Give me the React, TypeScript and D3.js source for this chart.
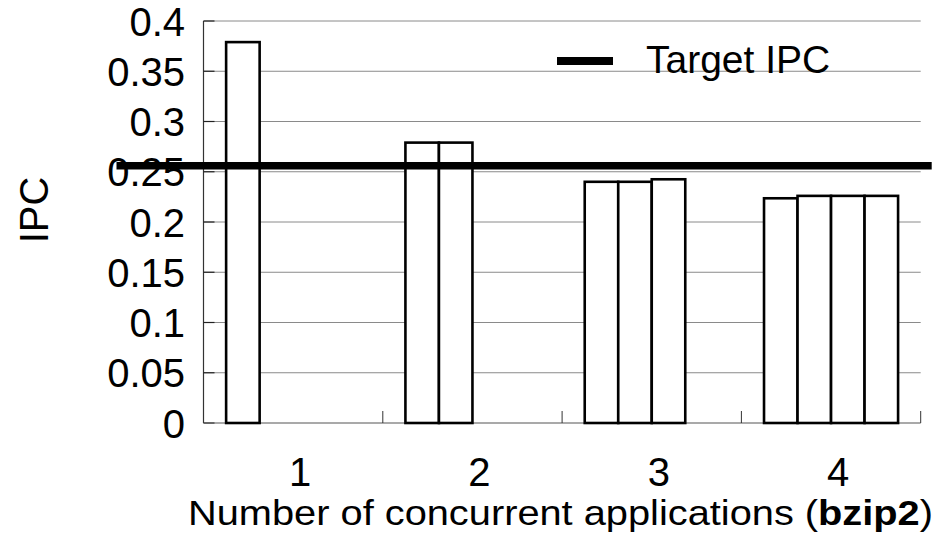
import React from "react";
import * as d3 from "d3";

const categories = ["1", "2", "3", "4"];
const seriesKeys = ["app1", "app2", "app3", "app4"];
const app1 = [0.379, 0.279, 0.240, 0.2236];
const app2 = [null, 0.279, 0.240, 0.226];
const app3 = [null, null, 0.2425, 0.226];
const app4 = [null, null, null, 0.226];
const series = [app1, app2, app3, app4];
const yTicks = [0, 0.05, 0.1, 0.15, 0.2, 0.25, 0.3, 0.35, 0.4];
const yTickLabels = ["0", "0.05", "0.1", "0.15", "0.2", "0.25", "0.3", "0.35", "0.4"];
const targetIPC = 0.256;
const legendLabel = "Target IPC";
const yLabel = "IPC";
const xLabelMain = "Number of concurrent applications (";
const xLabelBold = "bzip2";
const xLabelEnd = ")";

const W = 935;
const H = 533;
const plot = { left: 203.5, right: 920.7, top: 21, bottom: 423 };
const FONT = "Liberation Sans, Arial, Helvetica, sans-serif";

export default function App() {
  const x0 = d3.scaleBand<string>().domain(categories).range([plot.left, plot.right]).paddingInner(0).paddingOuter(0);
  const x1 = d3
    .scaleBand<string>()
    .domain(seriesKeys)
    .range([0, x0.bandwidth()])
    .paddingInner(0)
    .paddingOuter(0.675);
  const y = d3.scaleLinear().domain([0, 0.4]).range([plot.bottom, plot.top]);

  const bars: { x: number; y: number; w: number; h: number; key: string }[] = [];
  categories.forEach((c, ci) => {
    series.forEach((s, si) => {
      const v = s[ci];
      if (v == null) return;
      bars.push({
        x: (x0(c) as number) + (x1(seriesKeys[si]) as number),
        y: y(v),
        w: x1.bandwidth(),
        h: y(0) - y(v),
        key: `${ci}-${si}`,
      });
    });
  });

  const catBoundaries = categories.map((c) => (x0(c) as number) + x0.bandwidth());

  return (
    <svg
      width={W}
      height={H}
      style={{ position: "absolute", left: 0, top: 0, background: "#fff" }}
      fontFamily={FONT}
    >
      <rect x={0} y={0} width={W} height={H} fill="#fff" />
      {/* gridlines */}
      {yTicks.slice(1).map((t) => (
        <line key={t} x1={plot.left} x2={plot.right} y1={y(t)} y2={y(t)} stroke="#8a8a8a" strokeWidth={1} />
      ))}
      {/* y axis */}
      <line x1={plot.left} x2={plot.left} y1={y(0.4)} y2={plot.bottom} stroke="#333" strokeWidth={1.2} />
      {yTicks.map((t) => (
        <line key={"t" + t} x1={plot.left} x2={plot.left + 11} y1={y(t)} y2={y(t)} stroke="#222" strokeWidth={1.2} />
      ))}
      {yTicks.map((t, i) => (
        <text key={"l" + t} x={185} y={y(t) + 14.5} fontSize={40} textAnchor="end" fill="#000">
          {yTickLabels[i]}
        </text>
      ))}
      {/* x axis */}
      <line x1={plot.left} x2={plot.right} y1={plot.bottom} y2={plot.bottom} stroke="#555" strokeWidth={1.2} />
      {catBoundaries.map((b, i) => (
        <line key={"xb" + i} x1={b} x2={b} y1={plot.bottom} y2={plot.bottom - 12} stroke="#333" strokeWidth={1} />
      ))}
      {categories.map((c) => (
        <text
          key={"xc" + c}
          x={(x0(c) as number) + x0.bandwidth() / 2 + 7}
          y={485.7}
          fontSize={40}
          textAnchor="middle"
          fill="#000"
        >
          {c}
        </text>
      ))}
      {/* bars */}
      {bars.map((b) => (
        <rect key={b.key} x={b.x} y={b.y} width={b.w} height={b.h} fill="#fff" stroke="#000" strokeWidth={2.6} />
      ))}
      {/* target line */}
      <line x1={plot.left - 87} x2={plot.right + 11} y1={y(targetIPC)} y2={y(targetIPC)} stroke="#000" strokeWidth={7.5} />
      {/* legend */}
      <line x1={557} x2={613} y1={61} y2={61} stroke="#000" strokeWidth={8} />
      <text x={646} y={73.3} fontSize={39} fill="#000">
        {legendLabel}
      </text>
      {/* axis titles */}
      <text
        transform={`translate(48,210) rotate(-90)`}
        fontSize={40}
        textAnchor="middle"
        fill="#000"
      >
        {yLabel}
      </text>
      <text x={188} y={525} fontSize={35} fill="#000" textLength={745} lengthAdjust="spacingAndGlyphs">
        {xLabelMain}
        <tspan fontWeight="bold">{xLabelBold}</tspan>
        {xLabelEnd}
      </text>
    </svg>
  );
}
